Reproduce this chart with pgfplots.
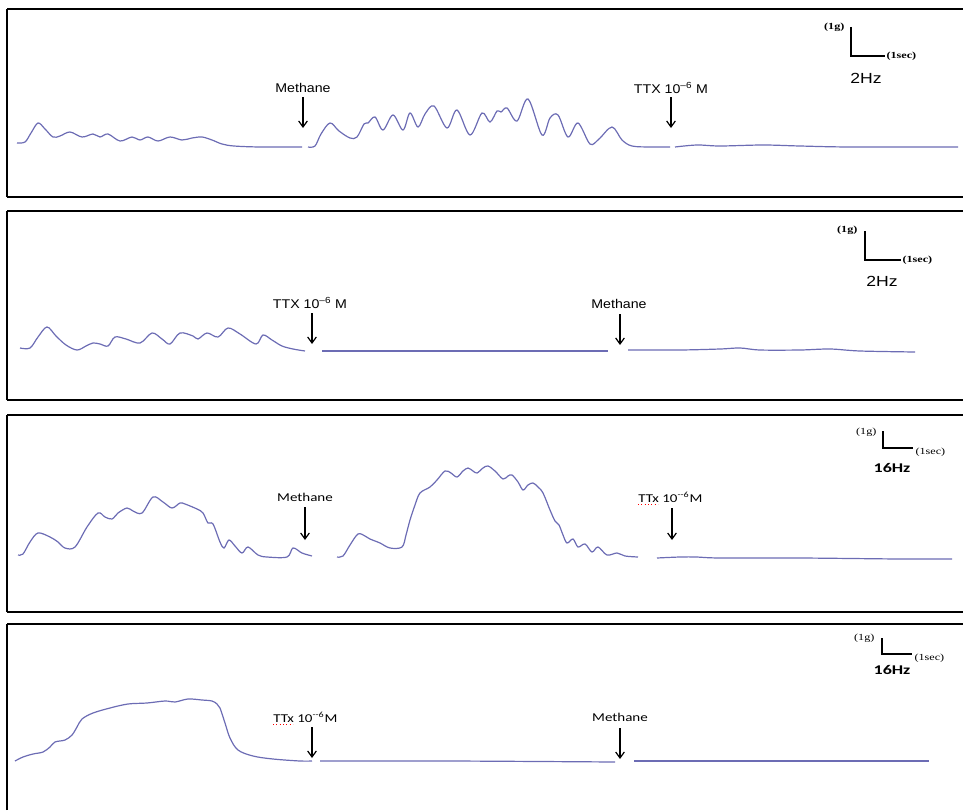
\documentclass[border=0pt]{standalone}
\usepackage{pgfplots}
\pgfplotsset{compat=1.18}
\usepackage{fontspec}
\setmainfont{Liberation Sans}
\newfontfamily\calfont{Carlito}
\newfontfamily\serfont{Liberation Serif}
\usetikzlibrary{arrows.meta}
\definecolor{trace}{RGB}{108,108,180}
\pgfplotsset{
  panel/.style={
    x=0.75pt, y=0.75pt, anchor=north west, clip=false,
    xtick=\empty, ytick=\empty,
    axis y line=left, axis x line=box,
    xmin=7, xmax=963,
  },
  nolinearrows/.style={
    axis line style={-, line width=1.3pt, black},
    every outer x axis line/.append style={-},
    every outer y axis line/.append style={-},
    every inner x axis line/.append style={-},
    every inner y axis line/.append style={-},
  },
  tr/.style={color=trace, line width=0.9pt, no markers, smooth, tension=0.55},
}
\tikzset{
  arr/.style={line width=0.9pt, -{Straight Barb[length=4.5pt,width=6.5pt]}},
  bar/.style={line width=1.1pt, black},
}
\newcommand\lab[2]{\fontsize{#1}{#1}\selectfont\scalebox{1.12}[1]{#2}}
\begin{document}
\begin{tikzpicture}
\useasboundingbox (0,0) rectangle (722.25pt,-607.5pt);
% ---------------- Panel 1 ----------------
\begin{axis}[panel, at={(7*0.75pt,-9*0.75pt)}, ymin=-197, ymax=-9, nolinearrows]
\addplot[tr] coordinates {(17,-143)(25,-142)(31,-133)(38,-123)(45,-129)(53,-137)(60,-136)(70,-132)(82,-137)(93,-134)(100,-137)(108,-134)(120,-141)(132,-137)(140,-140)(148,-137)(158,-141)(170,-137)(182,-140)(192,-138)(202,-137)(212,-140)(222,-144)(234,-146)(260,-147)(302,-147)};
\addplot[tr] coordinates {(308,-147)(315,-146)(321,-134)(330,-123)(339,-131)(350,-138)(357,-137)(364,-124)(368,-123)(375,-117)(383,-130)(393,-115)(403,-130)(410,-113)(418,-127)(425,-114)(434,-106)(447,-128)(457,-110)(470,-135)(482,-113)(490,-122)(497,-111)(501,-112)(507,-108)(517,-121)(528,-99)(542,-135)(550,-118)(558,-115)(568,-137)(578,-123)(590,-144)(599,-139)(612,-127)(622,-140)(632,-146)(650,-147)(670,-147)};
\addplot[tr] coordinates {(675,-147)(697,-145)(720,-146)(763,-145)(800,-146)(850,-147)(958,-147)};
\node at (axis cs:303,-88) {\lab{9.5}{Methane}};
\draw[arr] (axis cs:303,-97) -- (axis cs:303,-128);
\node at (axis cs:671,-88) {\lab{9.5}{TTX 10\textsuperscript{--6} M}};
\draw[arr] (axis cs:671,-97) -- (axis cs:671,-128);
\draw[bar] (axis cs:851,-27) -- (axis cs:851,-56) -- (axis cs:885,-56);
\node[anchor=east, inner sep=1pt] at (axis cs:846,-27) {\serfont\bfseries\fontsize{7}{7}\selectfont\scalebox{1.3}[1]{(1g)}};
\node[anchor=west, inner sep=1pt] at (axis cs:885,-56) {\serfont\bfseries\fontsize{7}{7}\selectfont\scalebox{1.3}[1]{(1sec)}};
\node at (axis cs:866,-78) {\fontsize{11}{11}\selectfont\scalebox{1.2}[1]{2Hz}};
\end{axis}
% ---------------- Panel 2 ----------------
\begin{axis}[panel, at={(7*0.75pt,-211*0.75pt)}, ymin=-400, ymax=-211, nolinearrows]
\addplot[tr] coordinates {(20,-348)(30,-348)(38,-337)(47,-327)(56,-336)(66,-345)(77,-350)(86,-346)(93,-343)(100,-344)(108,-346)(115,-337)(126,-339)(140,-343)(152,-333)(162,-339)(170,-344)(180,-333)(193,-336)(198,-339)(207,-333)(218,-337)(228,-328)(240,-334)(256,-344)(263,-335)(272,-340)(282,-346)(293,-349)(305,-351)};
\addplot[tr] coordinates {(322,-351)(400,-351)(500,-351)(608,-351)};
\addplot[tr] coordinates {(628,-350)(680,-350)(720,-349)(740,-348)(760,-350)(800,-350)(830,-349)(860,-351)(915,-352)};
\node at (axis cs:310,-303) {\lab{9.5}{TTX 10\textsuperscript{--6} M}};
\draw[arr] (axis cs:312,-313) -- (axis cs:312,-344);
\node at (axis cs:619,-304) {\lab{9.5}{Methane}};
\draw[arr] (axis cs:620,-314) -- (axis cs:620,-345);
\draw[bar] (axis cs:865,-231) -- (axis cs:865,-260) -- (axis cs:901,-260);
\node[anchor=east, inner sep=1pt] at (axis cs:859,-230) {\serfont\bfseries\fontsize{7}{7}\selectfont\scalebox{1.3}[1]{(1g)}};
\node[anchor=west, inner sep=1pt] at (axis cs:901,-260) {\serfont\bfseries\fontsize{7}{7}\selectfont\scalebox{1.3}[1]{(1sec)}};
\node at (axis cs:882,-281) {\fontsize{11}{11}\selectfont\scalebox{1.2}[1]{2Hz}};
\end{axis}
% ---------------- Panel 3 ----------------
\begin{axis}[panel, at={(7*0.75pt,-415*0.75pt)}, ymin=-612, ymax=-415, nolinearrows]
\addplot[tr] coordinates {(18,-555)(23,-554)(30,-542)(38,-533)(50,-537)(58,-542)(65,-548)(75,-547)(87,-527)(98,-513)(105,-517)(112,-519)(118,-513)(127,-508)(133,-511)(142,-513)(153,-497)(163,-502)(172,-508)(180,-503)(185,-504)(197,-509)(203,-513)(208,-523)(213,-524)(220,-542)(224,-548)(229,-540)(235,-546)(242,-553)(248,-547)(258,-555)(267,-557)(287,-557)(293,-548)(302,-553)(312,-556)};
\addplot[tr] coordinates {(337,-557)(343,-556)(350,-545)(358,-534)(365,-536)(370,-539)(380,-543)(390,-548)(402,-547)(406,-535)(410,-520)(415,-505)(420,-493)(430,-487)(437,-480)(445,-471)(451,-473)(457,-477)(463,-471)(468,-468)(473,-471)(477,-473)(483,-468)(488,-466)(495,-471)(503,-479)(508,-476)(512,-475)(518,-482)(523,-490)(528,-485)(533,-483)(538,-487)(543,-493)(550,-510)(555,-521)(559,-525)(563,-535)(567,-543)(573,-539)(578,-547)(585,-544)(592,-552)(598,-547)(607,-555)(617,-553)(625,-556)(638,-557)};
\addplot[tr] coordinates {(657,-558)(680,-557)(697,-557)(720,-558)(800,-558)(900,-559)(952,-559)};
\node at (axis cs:305,-497) {\calfont\fontsize{9}{9}\selectfont\scalebox{1.25}[1]{Methane}};
\draw[arr] (axis cs:305,-507) -- (axis cs:305,-540);
\node[anchor=west, inner sep=0pt] at (axis cs:638,-497) {\calfont\fontsize{9}{9}\selectfont\scalebox{1.25}[1]{TTx 10\textsuperscript{--6}M}};
\draw[red, dotted, line width=0.5pt] (axis cs:638,-504) -- (axis cs:658,-504);
\draw[arr] (axis cs:672,-508) -- (axis cs:672,-540);
\draw[bar] (axis cs:883,-431) -- (axis cs:883,-448) -- (axis cs:913,-448);
\node[anchor=east, inner sep=1pt] at (axis cs:878,-432) {\serfont\fontsize{7}{7}\selectfont\scalebox{1.3}[1]{(1g)}};
\node[anchor=west, inner sep=1pt] at (axis cs:914,-452) {\serfont\fontsize{7}{7}\selectfont\scalebox{1.3}[1]{(1sec)}};
\node at (axis cs:892,-468) {\calfont\bfseries\fontsize{10}{10}\selectfont\scalebox{1.35}[1]{16Hz}};
\end{axis}
% ---------------- Panel 4 ----------------
\begin{axis}[panel, axis x line=top, at={(7*0.75pt,-624*0.75pt)}, ymin=-810, ymax=-624, nolinearrows]
\addplot[tr] coordinates {(15,-761)(23,-757)(33,-754)(43,-752)(50,-747)(55,-742)(65,-740)(72,-735)(77,-727)(82,-719)(93,-713)(110,-708)(128,-704)(147,-703)(165,-701)(175,-702)(188,-699)(202,-700)(212,-701)(217,-704)(220,-708)(225,-723)(230,-738)(238,-750)(253,-756)(273,-759)(300,-761)(312,-761)};
\addplot[tr] coordinates {(320,-761)(450,-761)(615,-762)};
\addplot[tr] coordinates {(634,-761)(800,-761)(929,-761)};
\node[anchor=west, inner sep=0pt] at (axis cs:273,-717) {\calfont\fontsize{9}{9}\selectfont\scalebox{1.25}[1]{TTx 10\textsuperscript{--6}M}};
\draw[red, dotted, line width=0.5pt] (axis cs:273,-724) -- (axis cs:293,-724);
\draw[arr] (axis cs:312,-727) -- (axis cs:312,-758);
\node at (axis cs:620,-717) {\calfont\fontsize{9}{9}\selectfont\scalebox{1.25}[1]{Methane}};
\draw[arr] (axis cs:620,-728) -- (axis cs:620,-759);
\draw[bar] (axis cs:882,-638) -- (axis cs:882,-654) -- (axis cs:912,-654);
\node[anchor=east, inner sep=1pt] at (axis cs:876,-638) {\serfont\fontsize{7}{7}\selectfont\scalebox{1.3}[1]{(1g)}};
\node[anchor=west, inner sep=1pt] at (axis cs:913,-658) {\serfont\fontsize{7}{7}\selectfont\scalebox{1.3}[1]{(1sec)}};
\node at (axis cs:892,-670) {\calfont\bfseries\fontsize{10}{10}\selectfont\scalebox{1.35}[1]{16Hz}};
\end{axis}
\end{tikzpicture}
\end{document}
